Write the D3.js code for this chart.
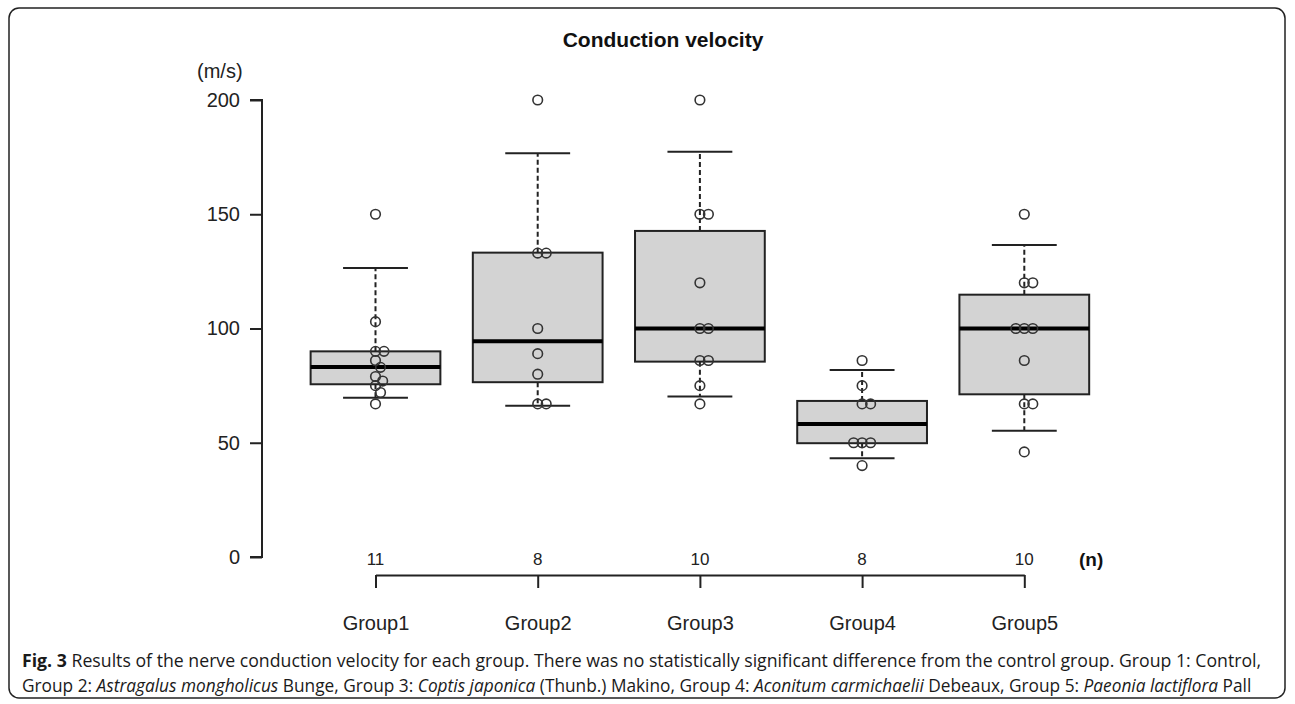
<!DOCTYPE html>
<html>
<head>
<meta charset="utf-8">
<script src="https://cdn.jsdelivr.net/npm/d3@7"></script>
<style>
  body { margin: 0; background: #fff; }
  svg { display: block; }
</style>
</head>
<body>
<script>
// Data
var groups = ["Group1", "Group2", "Group3", "Group4", "Group5"];
var counts = [11, 8, 10, 8, 10];

// box stats: lower whisker, q1, median, q3, upper whisker
var whiskLow = [69.7, 66.2, 70.2, 43.2, 55.3];
var q1 = [75.6, 76.5, 85.5, 49.8, 71.2];
var medians = [83.2, 94.4, 100, 58.2, 100];
var q3 = [90, 133.2, 142.7, 68.3, 114.8];
var whiskHigh = [126.5, 176.7, 177.4, 81.8, 136.5];

// individual observations
var g1 = [150, 103, 90, 90, 86, 83, 79, 77, 75, 72, 67];
var g2 = [200, 133, 133, 100, 89, 80, 67, 67];
var g3 = [200, 150, 150, 120, 100, 100, 86, 86, 75, 67];
var g4 = [86, 75, 67, 67, 50, 50, 50, 40];
var g5 = [150, 120, 120, 100, 100, 100, 86, 67, 67, 46];
var points = [g1, g2, g3, g4, g5];

var yTicks = [0, 50, 100, 150, 200];

var svgWidth = 1295;
var svgHeight = 704;

var svg = d3.select("body")
  .append("svg")
  .attr("width", svgWidth)
  .attr("height", svgHeight);

// outer frame
svg.append("rect")
  .attr("x", 9).attr("y", 8)
  .attr("width", 1276).attr("height", 690)
  .attr("rx", 10)
  .attr("fill", "none")
  .attr("stroke", "#222")
  .attr("stroke-width", 1.5);

var font = "'Liberation Sans', Arial, sans-serif";

// scales
var x = d3.scalePoint()
  .domain(groups)
  .range([375.5, 1024.3]);

var y = d3.scaleLinear()
  .domain([0, 200])
  .range([557, 100]);

var boxW = x.step() * 0.8;
var capW = boxW * 0.5;

// title
svg.append("text")
  .attr("x", 663).attr("y", 47)
  .attr("text-anchor", "middle")
  .attr("font-family", font)
  .attr("font-weight", "bold")
  .attr("font-size", 21)
  .attr("fill", "#111")
  .text("Conduction velocity");

svg.append("text")
  .attr("x", 197).attr("y", 78)
  .attr("font-family", font)
  .attr("font-size", 20)
  .attr("fill", "#222")
  .text("(m/s)");

// y axis
var leftAxis = d3.axisLeft(y)
  .tickValues(yTicks)
  .tickSize(12)
  .tickSizeOuter(0)
  .tickPadding(10);

var yAxisG = svg.append("g")
  .attr("transform", "translate(262,0)")
  .call(leftAxis);
yAxisG.selectAll("path, line").attr("stroke", "#222").attr("stroke-width", 2);
yAxisG.selectAll("text")
  .attr("font-family", font)
  .attr("font-size", 20)
  .attr("fill", "#222");
yAxisG.select(".domain").attr("d", "M-12," + y(200) + "H0V" + y(0) + "H-12");

// bottom (group) axis
var bottomAxis = d3.axisBottom(x)
  .tickSize(13)
  .tickSizeOuter(0);

var xAxisG = svg.append("g")
  .attr("transform", "translate(0,575)")
  .call(bottomAxis);
xAxisG.selectAll("path, line").attr("stroke", "#222").attr("stroke-width", 2);
xAxisG.selectAll("text")
  .attr("y", 55).attr("dy", 0)
  .attr("font-family", font)
  .attr("font-size", 20)
  .attr("fill", "#222");

// n labels
svg.selectAll(".nlab")
  .data(counts)
  .enter()
  .append("text")
  .attr("class", "nlab")
  .attr("x", (d, i) => x(groups[i]))
  .attr("y", 565)
  .attr("text-anchor", "middle")
  .attr("font-family", font)
  .attr("font-size", 17)
  .attr("fill", "#222")
  .text(d => d);

svg.append("text")
  .attr("x", 1079).attr("y", 566)
  .attr("font-family", font)
  .attr("font-weight", "bold")
  .attr("font-size", 19)
  .attr("fill", "#111")
  .text("(n)");

// boxes
var boxG = svg.selectAll(".box")
  .data(groups)
  .enter()
  .append("g")
  .attr("class", "box");

// whiskers (dashed)
boxG.append("line")
  .attr("x1", d => x(d)).attr("x2", d => x(d))
  .attr("y1", (d, i) => y(q3[i])).attr("y2", (d, i) => y(whiskHigh[i]))
  .attr("stroke", "#222").attr("stroke-width", 2).attr("stroke-dasharray", "5,3");
boxG.append("line")
  .attr("x1", d => x(d)).attr("x2", d => x(d))
  .attr("y1", (d, i) => y(q1[i])).attr("y2", (d, i) => y(whiskLow[i]))
  .attr("stroke", "#222").attr("stroke-width", 2).attr("stroke-dasharray", "5,3");

// caps
boxG.append("line")
  .attr("x1", d => x(d) - capW / 2).attr("x2", d => x(d) + capW / 2)
  .attr("y1", (d, i) => y(whiskHigh[i])).attr("y2", (d, i) => y(whiskHigh[i]))
  .attr("stroke", "#222").attr("stroke-width", 2);
boxG.append("line")
  .attr("x1", d => x(d) - capW / 2).attr("x2", d => x(d) + capW / 2)
  .attr("y1", (d, i) => y(whiskLow[i])).attr("y2", (d, i) => y(whiskLow[i]))
  .attr("stroke", "#222").attr("stroke-width", 2);

// box
boxG.append("rect")
  .attr("x", d => x(d) - boxW / 2)
  .attr("width", boxW)
  .attr("y", (d, i) => y(q3[i]))
  .attr("height", (d, i) => y(q1[i]) - y(q3[i]))
  .attr("fill", "#d3d3d3")
  .attr("stroke", "#222")
  .attr("stroke-width", 2);

// median
boxG.append("line")
  .attr("x1", d => x(d) - boxW / 2).attr("x2", d => x(d) + boxW / 2)
  .attr("y1", (d, i) => y(medians[i])).attr("y2", (d, i) => y(medians[i]))
  .attr("stroke", "#000").attr("stroke-width", 4);

// points: simple swarm so close values sit side by side (right side first)
var r = 4.8;
var dia = 8.5;
function swarm(vals) {
  var placed = [];
  vals.forEach(function(v) {
    var py = y(v);
    var cands = [0];
    placed.forEach(function(p) {
      var dy = Math.abs(p.y - py);
      if (dy < dia) {
        var dx = Math.sqrt(dia * dia - dy * dy);
        cands.push(p.dx + dx, p.dx - dx);
      }
    });
    cands.sort((a, b) => Math.abs(a) - Math.abs(b) || b - a);
    var best = cands.find(function(c) {
      return placed.every(function(p) {
        var ddx = p.dx - c, ddy = p.y - py;
        return ddx * ddx + ddy * ddy >= dia * dia - 0.01;
      });
    });
    placed.push({ v: v, y: py, dx: best });
  });
  return placed;
}

points.forEach(function(vals, i) {
  var pts = swarm(vals);
  svg.selectAll(".pt" + i)
    .data(pts)
    .enter()
    .append("circle")
    .attr("class", "pt" + i)
    .attr("cx", d => x(groups[i]) + d.dx)
    .attr("cy", d => y(d.v))
    .attr("r", r)
    .attr("fill", "none")
    .attr("stroke", "#333")
    .attr("stroke-width", 1.6);
});

// caption
var capFont = "'Open Sans', 'Noto Sans', sans-serif";
var line1 = [
  { t: "Fig. 3", b: true },
  { t: " Results of the nerve conduction velocity for each group. There was no statistically significant difference from the control group. Group 1: Control," }
];
var line2 = [
  { t: "Group 2: " }, { t: "Astragalus mongholicus", i: true }, { t: " Bunge, Group 3: " },
  { t: "Coptis japonica", i: true }, { t: " (Thunb.) Makino, Group 4: " },
  { t: "Aconitum carmichaelii", i: true }, { t: " Debeaux, Group 5: " },
  { t: "Paeonia lactiflora", i: true }, { t: " Pall" }
];
var captionLines = [
  { parts: line1, y: 667, w: 1240 },
  { parts: line2, y: 692, w: 1231 }
];

captionLines.forEach(function(L) {
  var t = svg.append("text")
    .attr("font-family", capFont)
    .attr("font-size", 17.5)
    .attr("fill", "#1a1a1a")
    .attr("xml:space", "preserve");
  L.parts.forEach(function(p) {
    t.append("tspan")
      .attr("font-weight", p.b ? "bold" : null)
      .attr("font-style", p.i ? "italic" : null)
      .text(p.t);
  });
  var len = t.node().getComputedTextLength();
  t.attr("transform", "translate(22," + L.y + ") scale(" + (L.w / len) + ",1)");
});
</script>
</body>
</html>
